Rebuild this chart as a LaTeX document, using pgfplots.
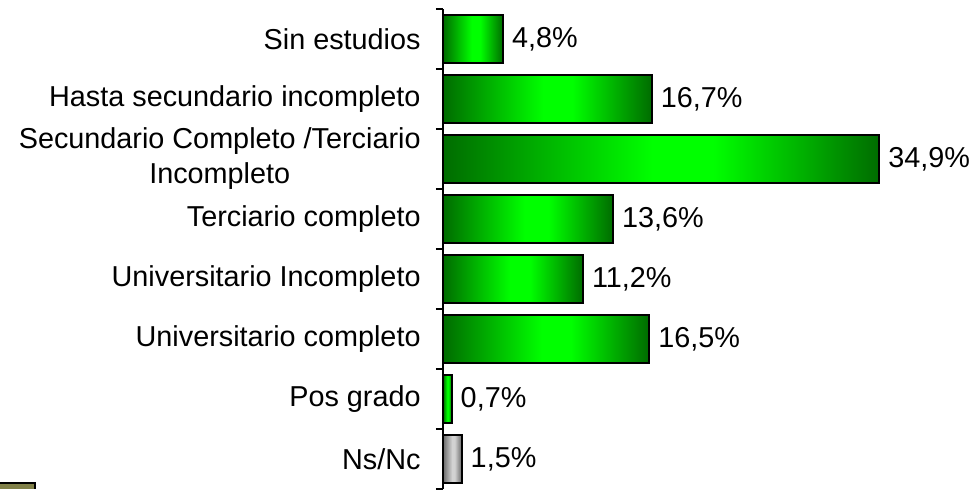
\documentclass[border=0pt]{standalone}
\usepackage{fontspec}
\setmainfont{Liberation Sans}
\usepackage{pgfplots}
\pgfplotsset{compat=1.18}
\definecolor{dkg}{RGB}{0,108,0}
\definecolor{brg}{RGB}{0,255,0}
\definecolor{dkgray}{RGB}{105,105,105}
\definecolor{ltgray}{RGB}{210,210,210}
\definecolor{oliv}{RGB}{128,128,72}
\pgfdeclarehorizontalshading{greenbar}{100bp}{color(0bp)=(dkg); color(25bp)=(dkg); color(49bp)=(brg); color(56bp)=(brg); color(75bp)=(dkg); color(100bp)=(dkg)}
\pgfdeclarehorizontalshading{graybar}{100bp}{color(0bp)=(dkgray); color(25bp)=(dkgray); color(49bp)=(ltgray); color(56bp)=(ltgray); color(75bp)=(dkgray); color(100bp)=(dkgray)}
\newcommand{\lblfont}{\fontsize{14.4}{17.5}\selectfont}
\begin{document}
\begin{tikzpicture}
\path[use as bounding box] (0,0) rectangle (490pt,244.5pt);
\fill[oliv] (0,0) rectangle (17.5pt,3pt);
\draw[black, line width=0.6pt] (0,3pt) -- (17.5pt,3pt) -- (17.5pt,0);
\begin{axis}[
  at={(221.5pt,0pt)}, anchor=south west,
  scale only axis, width=250pt, height=240pt,
  xmin=0, xmax=40, ymin=-0.5, ymax=7.5, y dir=reverse,
  axis y line*=left, axis x line=none,
  axis line style={black, line width=0.75pt},
  ytick={0,...,7},
  yticklabels={Sin estudios, Hasta secundario incompleto, {Secundario Completo /Terciario\\Incompleto}, Terciario completo, Universitario Incompleto, Universitario completo, Pos grado, Ns/Nc},
  major tick length=0pt,
  minor ytick={-0.5,0.5,...,7.5},
  minor tick length=3.5pt,
  tick align=outside,
  every tick/.style={black, line width=0.75pt},
  yticklabel style={font=\lblfont, align=center, inner sep=0pt, xshift=-11pt},
  point meta=x,
  nodes near coords={\pgfmathprintnumber[fixed, fixed zerofill, precision=1, use comma, assume math mode=true]{\pgfplotspointmeta}\%},
  nodes near coords style={font=\lblfont, text=black, anchor=west, inner sep=0pt, xshift=4pt},
  clip=false,
  greenb/.style={xbar, bar shift=0pt, bar width=24pt, draw=black, line width=1pt, shade, shading=greenbar},
  grayb/.style={xbar, bar shift=0pt, bar width=24pt, draw=black, line width=1pt, shade, shading=graybar},
]
\addplot[greenb] coordinates {(4.8,0)};
\addplot[greenb] coordinates {(16.7,1)};
\addplot[greenb] coordinates {(34.9,2)};
\addplot[greenb] coordinates {(13.6,3)};
\addplot[greenb] coordinates {(11.2,4)};
\addplot[greenb] coordinates {(16.5,5)};
\addplot[greenb] coordinates {(0.7,6)};
\addplot[grayb] coordinates {(1.5,7)};
\end{axis}
\end{tikzpicture}
\end{document}
